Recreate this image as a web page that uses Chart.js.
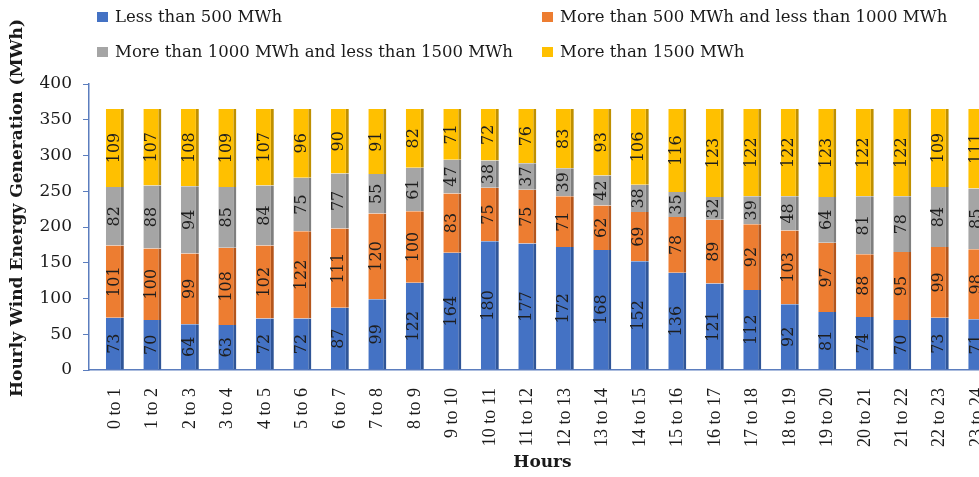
<!DOCTYPE html>
<html>
<head>
<meta charset="utf-8">
<script src="https://cdn.jsdelivr.net/npm/chart.js@4"></script>
<style>
  html, body { margin: 0; padding: 0; background: #fff; overflow: hidden; }
  #wrap { position: relative; width: 1000px; height: 477px; }
  .lg { position: absolute; font-family: "DejaVu Serif", serif; font-size: 16.5px; color: #1a1a1a; line-height: 20px; white-space: nowrap; }
  .lg i { position: absolute; left: -18px; top: 5px; width: 11px; height: 10px; }
</style>
</head>
<body>
<div id="wrap">
  <canvas id="chart"></canvas>
  <div id="legend"></div>
</div>
<script>
const hours = ['0 to 1','1 to 2','2 to 3','3 to 4','4 to 5','5 to 6','6 to 7','7 to 8','8 to 9','9 to 10','10 to 11','11 to 12',
  '12 to 13','13 to 14','14 to 15','15 to 16','16 to 17','17 to 18','18 to 19','19 to 20','20 to 21','21 to 22','22 to 23','23 to 24'];

const lessThan500 = [73,70,64,63,72,72,87,99,122,164,180,177,172,168,152,136,121,112,92,81,74,70,73,71];
const from500to1000 = [101,100,99,108,102,122,111,120,100,83,75,75,71,62,69,78,89,92,103,97,88,95,99,98];
const from1000to1500 = [82,88,94,85,84,75,77,55,61,47,38,37,39,42,38,35,32,39,48,64,81,78,84,85];
const moreThan1500 = [109,107,108,109,107,96,90,91,82,71,72,76,83,93,106,116,123,122,122,123,122,122,109,111];

const seriesNames = ['Less than 500 MWh', 'More than 500 MWh and less than 1000 MWh',
  'More than 1000 MWh and less than 1500 MWh', 'More than 1500 MWh'];
const seriesData = [lessThan500, from500to1000, from1000to1500, moreThan1500];
const colors = ['#4472C4', '#ED7D31', '#A5A5A5', '#FFC000'];
const sideColors = ['#2F5597', '#B4561C', '#7F7F7F', '#BF9000'];

const yTicks = [0, 50, 100, 150, 200, 250, 300, 350, 400];

// legend laid out like the original: two columns, two rows
const legendSpots = [[115, 7], [560, 7], [115, 42], [560, 42]];
const legend = document.getElementById('legend');
seriesNames.forEach((name, i) => {
  const d = document.createElement('div');
  d.className = 'lg';
  d.style.left = legendSpots[i][0] + 'px';
  d.style.top = legendSpots[i][1] + 'px';
  d.innerHTML = '<i style="background:' + colors[i] + '"></i>' + name;
  legend.appendChild(d);
});

const barLabels = {
  id: 'barLabels',
  afterDatasetsDraw(chart) {
    const ctx = chart.ctx;
    ctx.save();
    ctx.font = '16px "DejaVu Serif", serif';
    ctx.fillStyle = '#1e1e1e';
    ctx.textAlign = 'center';
    ctx.textBaseline = 'middle';
    chart.data.datasets.forEach((ds, i) => {
      chart.getDatasetMeta(i).data.forEach((bar, j) => {
        const p = bar.getProps(['x', 'y', 'base'], true);
        ctx.save();
        ctx.translate(p.x - 1.5, (p.y + p.base) / 2);
        ctx.rotate(-Math.PI / 2);
        ctx.fillText(String(ds.data[j]), 0, 1);
        ctx.restore();
      });
    });
    ctx.restore();
  }
};

const yTitle = {
  id: 'yTitle',
  afterDraw(chart) {
    const ctx = chart.ctx;
    ctx.save();
    ctx.font = 'bold 17px "DejaVu Serif", serif';
    ctx.fillStyle = '#1a1a1a';
    ctx.textAlign = 'center';
    ctx.textBaseline = 'middle';
    ctx.translate(18, 208);
    ctx.rotate(-Math.PI / 2);
    ctx.fillText('Hourly Wind Energy Generation (MWh)', 0, 0);
    ctx.restore();
  }
};

new Chart(document.getElementById('chart'), {
  type: 'bar',
  data: {
    labels: hours.map((h, i) => i),
    datasets: seriesData.map((d, i) => ({
      label: seriesNames[i],
      data: d,
      backgroundColor: colors[i],
      borderColor: sideColors[i],
      borderWidth: { top: 0, right: 3, bottom: 0, left: 0 },
      borderSkipped: false,
      barPercentage: 0.48,
      categoryPercentage: 1
    }))
  },
  options: {
    responsive: true,
    maintainAspectRatio: false,
    animation: false,
    layout: { padding: { top: 84, right: 4, left: 0, bottom: 0 } },
    plugins: { legend: { display: false }, tooltip: { enabled: false } },
    scales: {
      x: {
        type: 'linear',
        stacked: true,
        offset: false,
        min: -0.69, max: 23.5,
        afterFit: s => { s.height = 107; s.paddingLeft = 0; s.paddingRight = 0; },
        afterBuildTicks: s => { s.ticks = hours.map((h, i) => ({ value: i })); },
        grid: { display: false, offset: false },
        border: { color: '#5B7DBE', width: 1.5 },
        ticks: {
          autoSkip: false, minRotation: 90, maxRotation: 90, padding: 10,
          color: '#1a1a1a', font: { family: '"Liberation Serif", serif', size: 18 },
          callback: v => hours[v]
        },
        title: {
          display: true, text: 'Hours', padding: 4, color: '#1a1a1a',
          font: { family: '"DejaVu Serif", serif', size: 17, weight: 'bold' }
        }
      },
      y: {
        stacked: true,
        min: 0, max: 400,
        afterFit: s => { s.width = 89; },
        afterBuildTicks: s => { s.ticks = yTicks.map(v => ({ value: v })); },
        grid: { drawOnChartArea: false, drawTicks: true, tickLength: 6, color: '#5B7DBE' },
        border: { color: '#5B7DBE', width: 1.5 },
        ticks: {
          padding: 11, color: '#1a1a1a',
          font: { family: '"DejaVu Serif", serif', size: 17 }
        }
      }
    }
  },
  plugins: [barLabels, yTitle]
});
</script>
</body>
</html>
